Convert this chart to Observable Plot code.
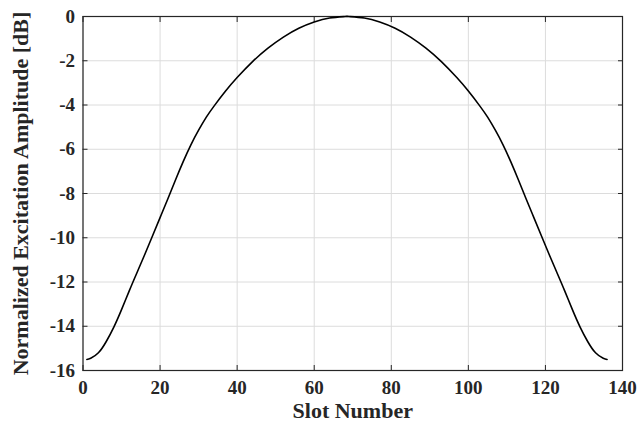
<!DOCTYPE html>
<html>
<head>
<meta charset="utf-8">
<script src="https://cdn.jsdelivr.net/npm/d3@7"></script>
<script src="https://cdn.jsdelivr.net/npm/@observablehq/plot@0.6"></script>
<style>
  html, body { margin: 0; padding: 0; background: #fff; }
  svg { display: block; }
  g[aria-label="x-axis label"] text, g[aria-label="y-axis label"] text { font-size: 22px; }
</style>
</head>
<body>
<div id="chart"></div>
<script>
// Slot numbers and normalized excitation amplitude [dB]
const slots = [1, 2, 4, 6, 8, 10, 12, 14, 16, 18, 20, 22, 24, 26, 28, 30, 32, 34, 37, 40, 44, 48, 52, 56, 60, 64, 68,
               69, 73, 77, 81, 85, 89, 93, 97, 100, 103, 105, 107, 109, 111, 113, 115, 117, 119, 121, 123, 125, 127, 129, 131, 133, 135, 136];
const amplitudeDb = [-15.5, -15.45, -15.2, -14.7, -14.04, -13.25, -12.4, -11.58, -10.77, -9.93, -9.09, -8.25, -7.39, -6.56, -5.8, -5.14, -4.55, -4.05, -3.37, -2.76, -2.04, -1.43, -0.93, -0.53, -0.25, -0.07, 0,
                     0, -0.07, -0.25, -0.53, -0.93, -1.43, -2.04, -2.76, -3.37, -4.05, -4.55, -5.14, -5.8, -6.56, -7.39, -8.25, -9.09, -9.93, -10.77, -11.58, -12.4, -13.25, -14.04, -14.7, -15.2, -15.45, -15.5];
const xTicks = [0, 20, 40, 60, 80, 100, 120, 140];
const yTicks = [0, -2, -4, -6, -8, -10, -12, -14, -16];
const xLabel = "Slot Number";
const yLabel = "Normalized Excitation Amplitude [dB]";

const data = slots.map((s, i) => ({slot: s, db: amplitudeDb[i]}));
const blank = () => "";
const FS = 19;

const chart = Plot.plot({
  width: 637,
  height: 423,
  marginLeft: 82.5,
  marginRight: 15,
  marginTop: 16,
  marginBottom: 53,
  style: {fontFamily: "'Liberation Serif', 'Times New Roman', serif", fontWeight: "bold", fontSize: FS + "px", color: "#262626", background: "#fff"},
  x: {domain: [0, 140]},
  y: {domain: [-16, 0]},
  marks: [
    Plot.gridX(xTicks, {stroke: "#dcdcdc", strokeOpacity: 1}),
    Plot.gridY(yTicks, {stroke: "#dcdcdc", strokeOpacity: 1}),
    Plot.axisX(xTicks, {tickSize: 0, tickPadding: 10, fontSize: FS, tickFormat: d => String(d), label: null, fill: "#262626"}),
    Plot.axisX({tickSize: 0, ticks: [], label: xLabel, labelAnchor: "center", labelOffset: 47, labelArrow: "none", fill: "#262626"}),
    Plot.axisX(xTicks, {tickSize: -5, tickFormat: blank, label: null, stroke: "#262626"}),
    Plot.axisX(xTicks, {anchor: "top", tickSize: -5, tickFormat: blank, label: null, stroke: "#262626"}),
    Plot.axisY(yTicks, {tickSize: 0, tickPadding: 8, fontSize: FS, tickFormat: d => String(d), label: null, fill: "#262626"}),
    Plot.axisY({tickSize: 0, ticks: [], label: yLabel, labelAnchor: "center", labelOffset: 71, labelArrow: "none", fill: "#262626"}),
    Plot.axisY(yTicks, {tickSize: -5, tickFormat: blank, label: null, stroke: "#262626"}),
    Plot.axisY(yTicks, {anchor: "right", tickSize: -5, tickFormat: blank, label: null, stroke: "#262626"}),
    Plot.frame({stroke: "#262626", strokeWidth: 1.2}),
    Plot.line(data, {x: "slot", y: "db", curve: "natural", stroke: "#000", strokeWidth: 1.6})
  ]
});
document.getElementById("chart").appendChild(chart);
</script>
</body>
</html>
